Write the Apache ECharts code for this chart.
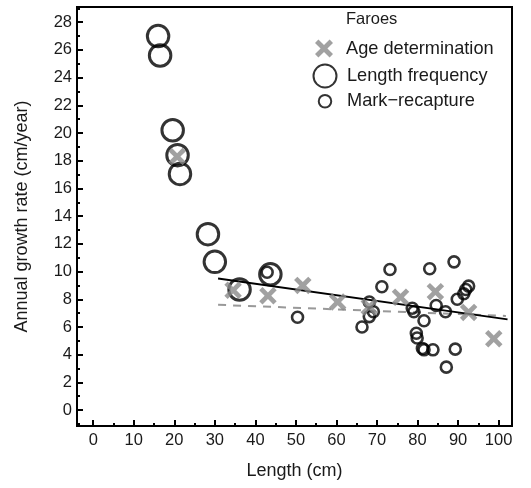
<!DOCTYPE html>
<html><head><meta charset="utf-8">
<script src="https://cdn.jsdelivr.net/npm/echarts@6/dist/echarts.min.js"></script>
<style>html,body{margin:0;padding:0;background:#fff}#c{width:531px;height:488px}</style>
</head><body><div id="c"></div>
<script>
// ---- data ----
const xTickValues = [0,10,20,30,40,50,60,70,80,90,100];
const xMinorTicks = [5,15,25,35,45,55,65,75,85,95];
const yTickValues = [0,2,4,6,8,10,12,14,16,18,20,22,24,26,28];
const yMinorTicks = [-1,1,3,5,7,9,11,13,15,17,19,21,23,25,27,29];

const ageDetermination = [[20.7,18.3],[34.5,8.65],[43.1,8.25],[51.7,9.0],[60.3,7.8],[68.1,7.45],[75.8,8.15],[84.4,8.55],[92.6,7.05],[98.8,5.15]];
const lengthFrequency = [[16.0,27.0],[16.5,25.6],[19.6,20.2],[20.8,18.4],[21.4,17.05],[28.3,12.7],[30.0,10.7],[36.1,8.7],[43.7,9.8]];
const markRecapture = [[42.9,9.95],[50.4,6.7],[66.3,6.0],[68.1,6.75],[69.1,7.1],[68.1,7.8],[71.2,8.9],[73.2,10.15],[78.7,7.35],[79.1,7.1],[79.7,5.55],[79.9,5.2],[81.2,4.45],[81.6,4.35],[81.6,6.45],[83.0,10.2],[83.8,4.35],[84.6,7.55],[86.9,7.1],[87.1,3.1],[89.0,10.7],[89.3,4.4],[89.8,8.0],[91.4,8.4],[91.9,8.7],[92.6,8.95]];
const fitSolid = [[30.8,9.5],[102.2,6.55]];
const fitDashed = [[30.8,7.6],[101.8,6.8]];

const legendNames = ['Age determination','Length frequency','Mark\u2212recapture'];
const legendTitle = 'Faroes';
const xName = 'Length (cm)';
const yName = 'Annual growth rate (cm/year)';

const FONT = 'Liberation Sans, Arial, sans-serif';
const X_PATH = 'path://M0,1.9L1.9,0L5,3.1L8.1,0L10,1.9L6.9,5L10,8.1L8.1,10L5,6.9L1.9,10L0,8.1L3.1,5Z';

const chart = echarts.init(document.getElementById('c'), null, {renderer:'canvas'});
const XMIN = -4, XMAX = 103.3, YMIN = -1.15, YMAX = 29.1;
const LEG_X = 324, LEG_TEXT_X = 346;

function legendAt(name, top, w, h){
  return {data:[name], left:LEG_X - w/2, top: top - h/2, itemWidth:w, itemHeight:h, itemGap:0,
    textStyle:{fontFamily:FONT, fontSize:18.2, color:'#1a1a1a', padding:[0,0,0, LEG_TEXT_X - (LEG_X + w/2) - 5]}, padding:0, selectedMode:false};
}

chart.setOption({
  animation:false,
  backgroundColor:'#fff',
  title:{text:legendTitle, left:LEG_TEXT_X, top:11, padding:0,
    textStyle:{fontFamily:FONT, fontSize:16.5, fontWeight:'normal', color:'#1a1a1a'}},
  legend:[
    legendAt(legendNames[0], 48.5, 18, 18),
    legendAt(legendNames[1], 75, 23, 23),
    legendAt(legendNames[2], 98.5, 12.5, 12.5)
  ],
  grid:{left:77, right:19, top:7, bottom:62, show:true, borderColor:'#000', borderWidth:2, backgroundColor:'transparent'},
  xAxis:[{
    type:'value', min:XMIN, max:XMAX, position:'bottom',
    name:xName, nameLocation:'middle', nameGap:36,
    nameTextStyle:{fontFamily:FONT, fontSize:18, color:'#1a1a1a'},
    axisLine:{show:true, onZero:false, lineStyle:{color:'#000', width:2}},
    axisTick:{show:true, inside:true, length:6, lineStyle:{color:'#000', width:2}, customValues:xTickValues},
    axisLabel:{show:true, margin:6, fontFamily:FONT, fontSize:16.5, color:'#1a1a1a', customValues:xTickValues},
    splitLine:{show:false}
  },{
    type:'value', min:XMIN, max:XMAX, position:'bottom',
    axisLine:{show:false, onZero:false},
    axisTick:{show:true, inside:true, length:3, lineStyle:{color:'#000', width:2}, customValues:xMinorTicks},
    axisLabel:{show:false}, splitLine:{show:false}
  }],
  yAxis:[{
    type:'value', min:YMIN, max:YMAX, position:'left',
    name:yName, nameLocation:'middle', nameGap:46,
    nameTextStyle:{fontFamily:FONT, fontSize:18, color:'#1a1a1a'},
    axisLine:{show:true, onZero:false, lineStyle:{color:'#000', width:2}},
    axisTick:{show:true, inside:true, length:6, lineStyle:{color:'#000', width:2}, customValues:yTickValues},
    axisLabel:{show:true, margin:5, fontFamily:FONT, fontSize:16.5, color:'#1a1a1a', customValues:yTickValues},
    splitLine:{show:false}
  },{
    type:'value', min:YMIN, max:YMAX, position:'left',
    axisLine:{show:false, onZero:false},
    axisTick:{show:true, inside:true, length:3, lineStyle:{color:'#000', width:2}, customValues:yMinorTicks.filter(v=>v>YMIN && v<YMAX)},
    axisLabel:{show:false}, splitLine:{show:false}
  }],
  series:[
    {name:'fitDashed', type:'line', data:fitDashed, symbol:'none', silent:true, z:2,
      lineStyle:{color:'#999', width:2, type:[8,7]}},
    {name:'fitSolid', type:'line', data:fitSolid, symbol:'none', silent:true, z:2,
      lineStyle:{color:'#000', width:1.8}},
    {name:legendNames[1], type:'scatter', data:lengthFrequency, symbol:'circle', symbolSize:21.5, z:3,
      itemStyle:{color:'transparent', borderColor:'#000', borderWidth:3}},
    {name:legendNames[2], type:'scatter', data:markRecapture, symbol:'circle', symbolSize:11, z:3,
      itemStyle:{color:'transparent', borderColor:'#000', borderWidth:2.6}},
    {name:legendNames[0], type:'scatter', data:ageDetermination, symbol:X_PATH, symbolSize:17.5, z:4,
      itemStyle:{color:'#8a8a8a'}}
  ]
});
</script></body></html>
